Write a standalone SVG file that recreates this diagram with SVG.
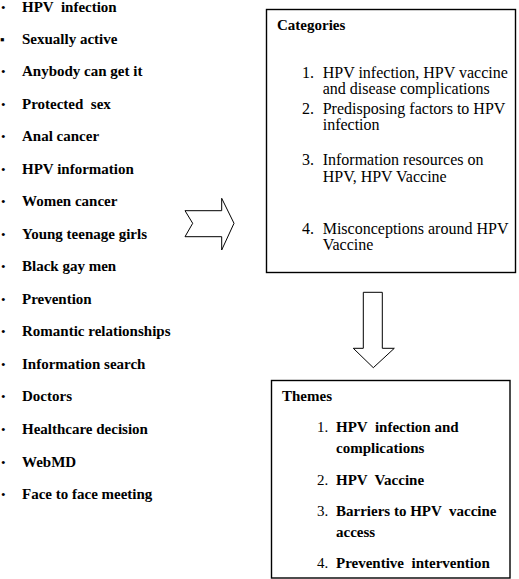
<svg xmlns="http://www.w3.org/2000/svg" width="519" height="579" viewBox="0 0 519 579">
<style>
  .b { font-family: "Liberation Serif", "Times New Roman", serif; font-size: 15px; font-weight: bold; fill: #000; white-space: pre; }
  .r { font-family: "Liberation Serif", "Times New Roman", serif; font-size: 16px; fill: #000; white-space: pre; }
  .tb { font-family: "Liberation Serif", "Times New Roman", serif; font-size: 15px; font-weight: bold; fill: #000; white-space: pre; }
  .tn { font-family: "Liberation Serif", "Times New Roman", serif; font-size: 15px; fill: #000; }
  .bul { font-family: "Liberation Serif", "DejaVu Sans", serif; font-size: 13px; fill: #000; }
  .box { fill: #fff; stroke: #000; stroke-width: 1.4; }
  .arrow { fill: #fff; stroke: #000; stroke-width: 1; stroke-linejoin: miter; }
</style>
<rect width="519" height="579" fill="#fff"/>
<g id="codes">
  <text class="bul" x="1" y="11.5">•</text><text class="b" x="22" y="11.5" xml:space="preserve">HPV  infection</text>
  <text class="bul" x="0" y="43.5">▪</text><text class="b" x="22" y="43.5">Sexually active</text>
  <text class="bul" x="1" y="76">•</text><text class="b" x="22" y="76">Anybody can get it</text>
  <text class="bul" x="1" y="108.6">•</text><text class="b" x="22" y="108.6" xml:space="preserve">Protected  sex</text>
  <text class="bul" x="1" y="141.1">•</text><text class="b" x="22" y="141.1">Anal cancer</text>
  <text class="bul" x="1" y="173.7">•</text><text class="b" x="22" y="173.7">HPV information</text>
  <text class="bul" x="1" y="206.2">•</text><text class="b" x="22" y="206.2">Women cancer</text>
  <text class="bul" x="1" y="238.7">•</text><text class="b" x="22" y="238.7">Young teenage girls</text>
  <text class="bul" x="1" y="271.3">•</text><text class="b" x="22" y="271.3">Black gay men</text>
  <text class="bul" x="1" y="303.8">•</text><text class="b" x="22" y="303.8">Prevention</text>
  <text class="bul" x="1" y="336.3">•</text><text class="b" x="22" y="336.3">Romantic relationships</text>
  <text class="bul" x="1" y="368.9">•</text><text class="b" x="22" y="368.9">Information search</text>
  <text class="bul" x="1" y="401.4">•</text><text class="b" x="22" y="401.4">Doctors</text>
  <text class="bul" x="1" y="433.9">•</text><text class="b" x="22" y="433.9">Healthcare decision</text>
  <text class="bul" x="1" y="466.5">•</text><text class="b" x="22" y="466.5">WebMD</text>
  <text class="bul" x="1" y="499">•</text><text class="b" x="22" y="499">Face to face meeting</text>
</g>
<g id="connectors">
  <polygon class="arrow" points="185,210.7 221.7,210.7 221.7,198.3 234,223.3 221.7,250 221.7,236.7 185,236.7 192.7,223.3"/>
  <polygon class="arrow" points="363.3,292.3 382.3,292.3 382.3,348.3 394.3,348.3 373.3,367.7 353.3,348.3 363.3,348.3"/>
</g>
<g id="categories">
  <rect class="box" x="266.5" y="9.5" width="249" height="263"/>
  <text class="tb" x="277" y="30">Categories</text>
  <text class="r" x="302" y="78">1.</text><text class="r" x="322.7" y="78">HPV infection, HPV vaccine</text>
  <text class="r" x="322.7" y="94">and disease complications</text>
  <text class="r" x="302" y="114">2.</text><text class="r" x="322.7" y="114">Predisposing factors to HPV</text>
  <text class="r" x="322.7" y="130">infection</text>
  <text class="r" x="302" y="165">3.</text><text class="r" x="322.7" y="165">Information resources on</text>
  <text class="r" x="322.7" y="181.5">HPV, HPV Vaccine</text>
  <text class="r" x="302" y="233.5">4.</text><text class="r" x="322.7" y="233.5">Misconceptions around HPV</text>
  <text class="r" x="322.7" y="250">Vaccine</text>
</g>
<g id="themes">
  <rect class="box" x="271.5" y="380.5" width="238.5" height="197.5"/>
  <text class="tb" x="282" y="401">Themes</text>
  <text class="tn" x="317" y="432">1.</text><text class="tb" x="336" y="432" xml:space="preserve">HPV  infection and</text>
  <text class="tb" x="336" y="453">complications</text>
  <text class="tn" x="317" y="485">2.</text><text class="tb" x="336" y="485" xml:space="preserve">HPV  Vaccine</text>
  <text class="tn" x="317" y="516">3.</text><text class="tb" x="336" y="516" xml:space="preserve">Barriers to HPV  vaccine</text>
  <text class="tb" x="336" y="537">access</text>
  <text class="tn" x="317" y="568">4.</text><text class="tb" x="336" y="568" xml:space="preserve">Preventive  intervention</text>
</g>
</svg>
